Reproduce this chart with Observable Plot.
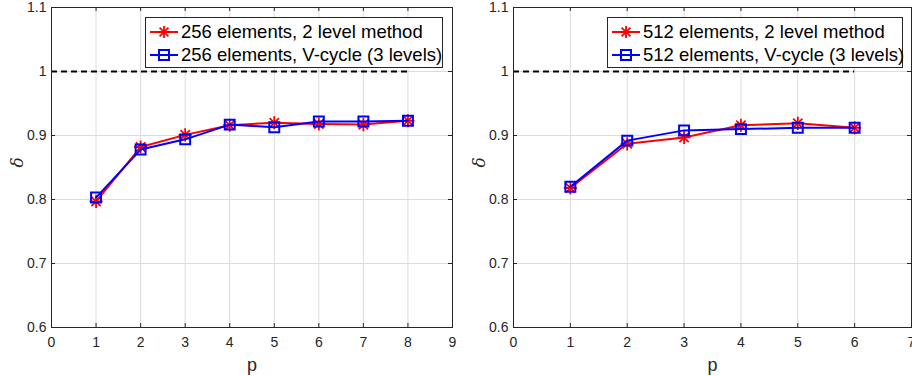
<!DOCTYPE html>
<html>
<head>
<meta charset="utf-8">
<script src="https://cdn.jsdelivr.net/npm/d3@7"></script>
<script src="https://cdn.jsdelivr.net/npm/@observablehq/plot@0.6"></script>
<style>
  html, body { margin: 0; padding: 0; background: #fff; }
  #wrap { position: relative; width: 912px; height: 376px; overflow: hidden; font-family: "Liberation Sans", Arial, sans-serif; }
  .panel { position: absolute; top: 0; }
  .legend { position: absolute; background: #fff; border: 1px solid #262626; box-sizing: border-box; }
  .legend .row { position: absolute; left: 0; height: 22px; display: flex; align-items: center; white-space: nowrap; font-size: 18.5px; color: #000; }
  .legend svg { display: block; margin-left: 4px; margin-right: 3px; }
</style>
</head>
<body>
<div id="wrap"></div>
<script>
// ---- data ----
const p256 = [1, 2, 3, 4, 5, 6, 7, 8];
const twoLevel256 = [0.797, 0.882, 0.901, 0.916, 0.920, 0.918, 0.917, 0.923];
const vcycle256   = [0.803, 0.878, 0.894, 0.917, 0.913, 0.922, 0.922, 0.923];

const p512 = [1, 2, 3, 4, 5, 6];
const twoLevel512 = [0.818, 0.887, 0.897, 0.916, 0.919, 0.912];
const vcycle512   = [0.820, 0.892, 0.908, 0.910, 0.912, 0.912];

const yTicks = [0.6, 0.7, 0.8, 0.9, 1, 1.1];
const xTicks256 = [0, 1, 2, 3, 4, 5, 6, 7, 8, 9];
const xTicks512 = [0, 1, 2, 3, 4, 5, 6, 7];
const refLevel = 1;

const legend256 = ["256 elements, 2 level method", "256 elements, V-cycle (3 levels)"];
const legend512 = ["512 elements, 2 level method", "512 elements, V-cycle (3 levels)"];

const RED = "#ff0000", BLUE = "#0000ff", INK = "#262626";

function makePanel({p, red, blue, xTicks, labels, left, width, marginLeft, marginRight, legendBox}) {
  const W = width, H = 376, mT = 7, mB = 49;
  const plotW = W - marginLeft - marginRight, plotH = H - mT - mB;
  const redData = p.map((x, i) => ({p: x, v: red[i]}));
  const blueData = p.map((x, i) => ({p: x, v: blue[i]}));
  const xMax = d3.max(xTicks);
  const chart = Plot.plot({
    width: W, height: H,
    marginLeft, marginRight, marginTop: mT, marginBottom: mB,
    style: {fontFamily: '"Liberation Sans", Arial, sans-serif', fontSize: "14px", color: INK, background: "transparent", overflow: "visible"},
    x: {domain: [0, xMax], ticks: xTicks, tickFormat: d3.format("d")},
    y: {domain: [0.6, 1.1], ticks: yTicks, tickFormat: d => String(+d.toFixed(1))},
    marks: [
      Plot.gridX(xTicks, {stroke: "#dcdcdc", strokeOpacity: 1}),
      Plot.gridY(yTicks, {stroke: "#dcdcdc", strokeOpacity: 1}),
      Plot.axisX(xTicks, {tickSize: 0, tickPadding: 10, fontSize: 14, fill: INK, label: null, tickFormat: d3.format("d")}),
      Plot.axisY(yTicks, {tickSize: 0, tickPadding: 5, fontSize: 14, fill: INK, label: null, tickFormat: d => String(+d.toFixed(1))}),
      // inward tick marks on all four sides
      Plot.tickY(yTicks, {y: d => d, stroke: INK, insetRight: plotW - 4}),
      Plot.tickY(yTicks, {y: d => d, stroke: INK, insetLeft: plotW - 4}),
      Plot.tickX(xTicks, {x: d => d, stroke: INK, insetTop: plotH - 4}),
      Plot.tickX(xTicks, {x: d => d, stroke: INK, insetBottom: plotH - 4}),
      Plot.ruleY([refLevel], {x1: 0, x2: d3.max(p), stroke: "#000", strokeWidth: 2, strokeDasharray: "6,4"}),
      Plot.line(redData, {x: "p", y: "v", stroke: RED, strokeWidth: 2}),
      Plot.dot(redData, {x: "p", y: "v", symbol: "plus", r: 4.3, stroke: RED, strokeWidth: 1.8}),
      Plot.dot(redData, {x: "p", y: "v", symbol: "times", r: 4.3, stroke: RED, strokeWidth: 1.8}),
      Plot.line(blueData, {x: "p", y: "v", stroke: BLUE, strokeWidth: 2}),
      Plot.dot(blueData, {x: "p", y: "v", symbol: "square", r: 5.6, fill: "none", stroke: BLUE, strokeWidth: 2}),
      Plot.frame({stroke: INK, strokeWidth: 1}),
      Plot.text(["δ"], {frameAnchor: "left", dx: -34, rotate: -90, fontSize: 17, fontStyle: "italic", fill: INK, fontFamily: '"DejaVu Serif", serif'}),
      Plot.text(["p"], {frameAnchor: "bottom", dy: 38, fontSize: 18, fill: INK, lineAnchor: "middle"})
    ]
  });
  const holder = document.createElement("div");
  holder.className = "panel";
  holder.style.left = left + "px";
  holder.appendChild(chart);
  document.getElementById("wrap").appendChild(holder);

  // legend
  const lg = document.createElement("div");
  lg.className = "legend";
  lg.style.left = legendBox.x + "px";
  lg.style.top = legendBox.y + "px";
  lg.style.width = legendBox.w + "px";
  lg.style.height = legendBox.h + "px";
  const specs = [
    {label: labels[0], color: RED, kind: "asterisk"},
    {label: labels[1], color: BLUE, kind: "square"}
  ];
  specs.forEach((s, i) => {
    const row = document.createElement("div");
    row.className = "row";
    row.style.top = (i === 0 ? 3 : 26) + "px";
    const svg = d3.create("svg").attr("width", 28).attr("height", 22);
    svg.append("line").attr("x1", 0).attr("x2", 28).attr("y1", 11).attr("y2", 11)
      .attr("stroke", s.color).attr("stroke-width", 2);
    const g = svg.append("g").attr("transform", "translate(14,11)");
    if (s.kind === "asterisk") {
      const a = 6, b = 4.4;
      g.append("path").attr("d", `M${-a},0L${a},0M0,${-a}L0,${a}M${-b},${-b}L${b},${b}M${-b},${b}L${b},${-b}`)
        .attr("stroke", s.color).attr("stroke-width", 1.8).attr("fill", "none");
    } else {
      g.append("rect").attr("x", -5).attr("y", -5).attr("width", 10).attr("height", 10)
        .attr("stroke", s.color).attr("stroke-width", 2).attr("fill", "none");
    }
    row.appendChild(svg.node());
    const t = document.createElement("span");
    t.textContent = s.label;
    row.appendChild(t);
    lg.appendChild(row);
  });
  document.getElementById("wrap").appendChild(lg);
}

makePanel({p: p256, red: twoLevel256, blue: vcycle256, xTicks: xTicks256, labels: legend256,
  left: 0, width: 456, marginLeft: 51, marginRight: 4,
  legendBox: {x: 145, y: 17, w: 298, h: 51}});
makePanel({p: p512, red: twoLevel512, blue: vcycle512, xTicks: xTicks512, labels: legend512,
  left: 456, width: 456, marginLeft: 57, marginRight: 1,
  legendBox: {x: 607, y: 17, w: 296, h: 51}});
</script>
</body>
</html>
